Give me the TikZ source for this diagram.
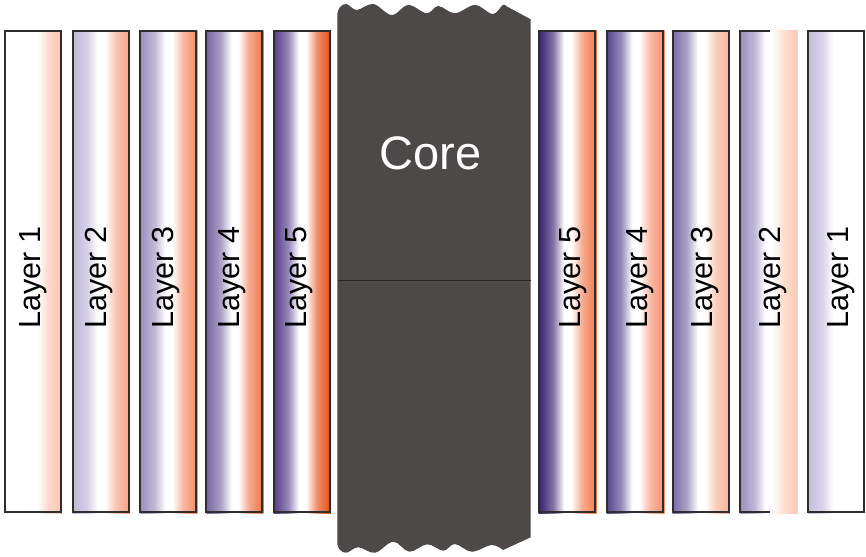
\documentclass[tikz,border=0pt]{standalone}
\usepackage{fontspec}
\setmainfont{Liberation Sans}
% layer palette: purple side / orange side
\definecolor{o1}{HTML}{FCC4AE}
\definecolor{p2}{HTML}{BFB6D8}\definecolor{o2}{HTML}{F6A082}
\definecolor{p3}{HTML}{9D8FC0}\definecolor{o3}{HTML}{F48A66}
\definecolor{p4}{HTML}{7766A2}\definecolor{o4}{HTML}{EF7248}
\definecolor{p5}{HTML}{553E8C}\definecolor{o5}{HTML}{E64A12}
\definecolor{q5}{HTML}{36206C}\definecolor{r5}{HTML}{F3784A}
\definecolor{q4}{HTML}{56448C}\definecolor{r4}{HTML}{F48E68}
\definecolor{q3}{HTML}{7A6CA6}\definecolor{r3}{HTML}{F8B194}
\definecolor{q2}{HTML}{9C8EC0}\definecolor{r2}{HTML}{FECAB4}
\definecolor{q1}{HTML}{C4BBDC}
\definecolor{coregray}{HTML}{4D4948}
\definecolor{coreline}{HTML}{2B2723}
\definecolor{edge}{HTML}{2E2E2E}
\colorlet{lc}{white}\colorlet{rc}{white}
\colorlet{lcm}{white}\colorlet{rcm}{white}
% purple -> white -> orange across the width of a layer
\pgfdeclarehorizontalshading[lc,lcm,rcm,rc]{layershade}{100bp}{%
  color(0bp)=(lc); color(25bp)=(lc); color(37.5bp)=(lcm); color(47bp)=(white);
  color(53bp)=(white); color(62.5bp)=(rcm); color(75bp)=(rc); color(100bp)=(rc)}
\newcommand\setlayercolors[2]{%
  \colorlet{lc}{#1}\colorlet{rc}{#2}%
  \colorlet{lcm}{#1!62!white}\colorlet{rcm}{#2!62!white}}
\tikzset{
  layeredge/.style={draw=edge, line width=1.8pt},
  layerlabel/.style={rotate=90, anchor=base, inner sep=0pt, text=black,
    font=\fontsize{30.5}{36}\selectfont},
  corelabel/.style={anchor=base, inner sep=0pt, text=white,
    font=\fontsize{47}{56}\selectfont},
}
% \layerstrip{name}{x0}{x1}{left colour}{right colour}{baseline x}{label}
\newcommand\layerstrip[7]{%
  \setlayercolors{#4}{#5}%
  \shade[shading=layershade, shading angle=0]
    (#2,30.7) rectangle (#3+1.5,513.2);
  \draw[layeredge] (#2,30.7) rectangle (#3,511.7);
  \node[layerlabel] (#1) at (#6,277.5) {#7};
}
\begin{document}
\begin{tikzpicture}[x=1pt, y=-1pt]
\useasboundingbox (0,0) rectangle (866,556);

% left stack
\layerstrip{L1}{4.7}{60.7}{white}{o1}{40}{Layer 1}
\layerstrip{L2}{72.7}{128.7}{p2}{o2}{106.7}{Layer 2}
\layerstrip{L3}{140.3}{196}{p3}{o3}{173.5}{Layer 3}
\layerstrip{L4}{206.3}{262}{p4}{o4}{239.5}{Layer 4}
\layerstrip{L5}{273.7}{329.7}{p5}{o5}{306}{Layer 5}

% right stack
\layerstrip{R5}{538.7}{595.3}{q5}{r5}{580}{Layer 5}
\layerstrip{R4}{606.7}{663.3}{q4}{r4}{647.5}{Layer 4}
\layerstrip{R3}{672.7}{728.7}{q3}{r3}{712.5}{Layer 3}
\layerstrip{R1}{808.3}{864}{q1}{white}{848.3}{Layer 1}

% second right layer: open on its right side
\setlayercolors{q2}{r2}
\shade[shading=layershade, shading angle=0]
  (740.3,30.7) rectangle (797.7,513.2);
\draw[layeredge] (770,30.7) -- (740.3,30.7) -- (740.3,511.7) -- (770,511.7);
\node[layerlabel] (R2) at (780,277.5) {Layer 2};

% core block with torn top and bottom edges
\fill[coregray] (337.3,536.7) -- (337.3,14)
  -- plot[smooth, tension=0.6] coordinates {(337.3,14) (340,7) (346.7,4) (356.7,10)
      (373.3,4) (391.7,15) (408.3,5) (426.7,13.3) (438.3,6) (455,13.3)
      (475,5) (492.7,14) (502.7,5) (506,6)}
  -- (530.7,19.3) -- (530.7,537.3) -- (503,550)
  -- plot[smooth, tension=0.6] coordinates {(503,550) (491.7,545) (471.7,551.7)
      (455,544) (443.3,550.7) (427.3,544.3) (409.3,551.7) (393.3,541.7)
      (375,552.7) (358.3,547.3) (346.7,552.7) (340,550) (337.3,544)}
  -- cycle;
\coordinate (corew) at (338,280.7);
\coordinate (coree) at (531,280.7);
\draw[coreline, line width=1.5pt] (corew) -- (coree);
\node[corelabel] (core) at (430.7,169.5) {Core};
\end{tikzpicture}
\end{document}
